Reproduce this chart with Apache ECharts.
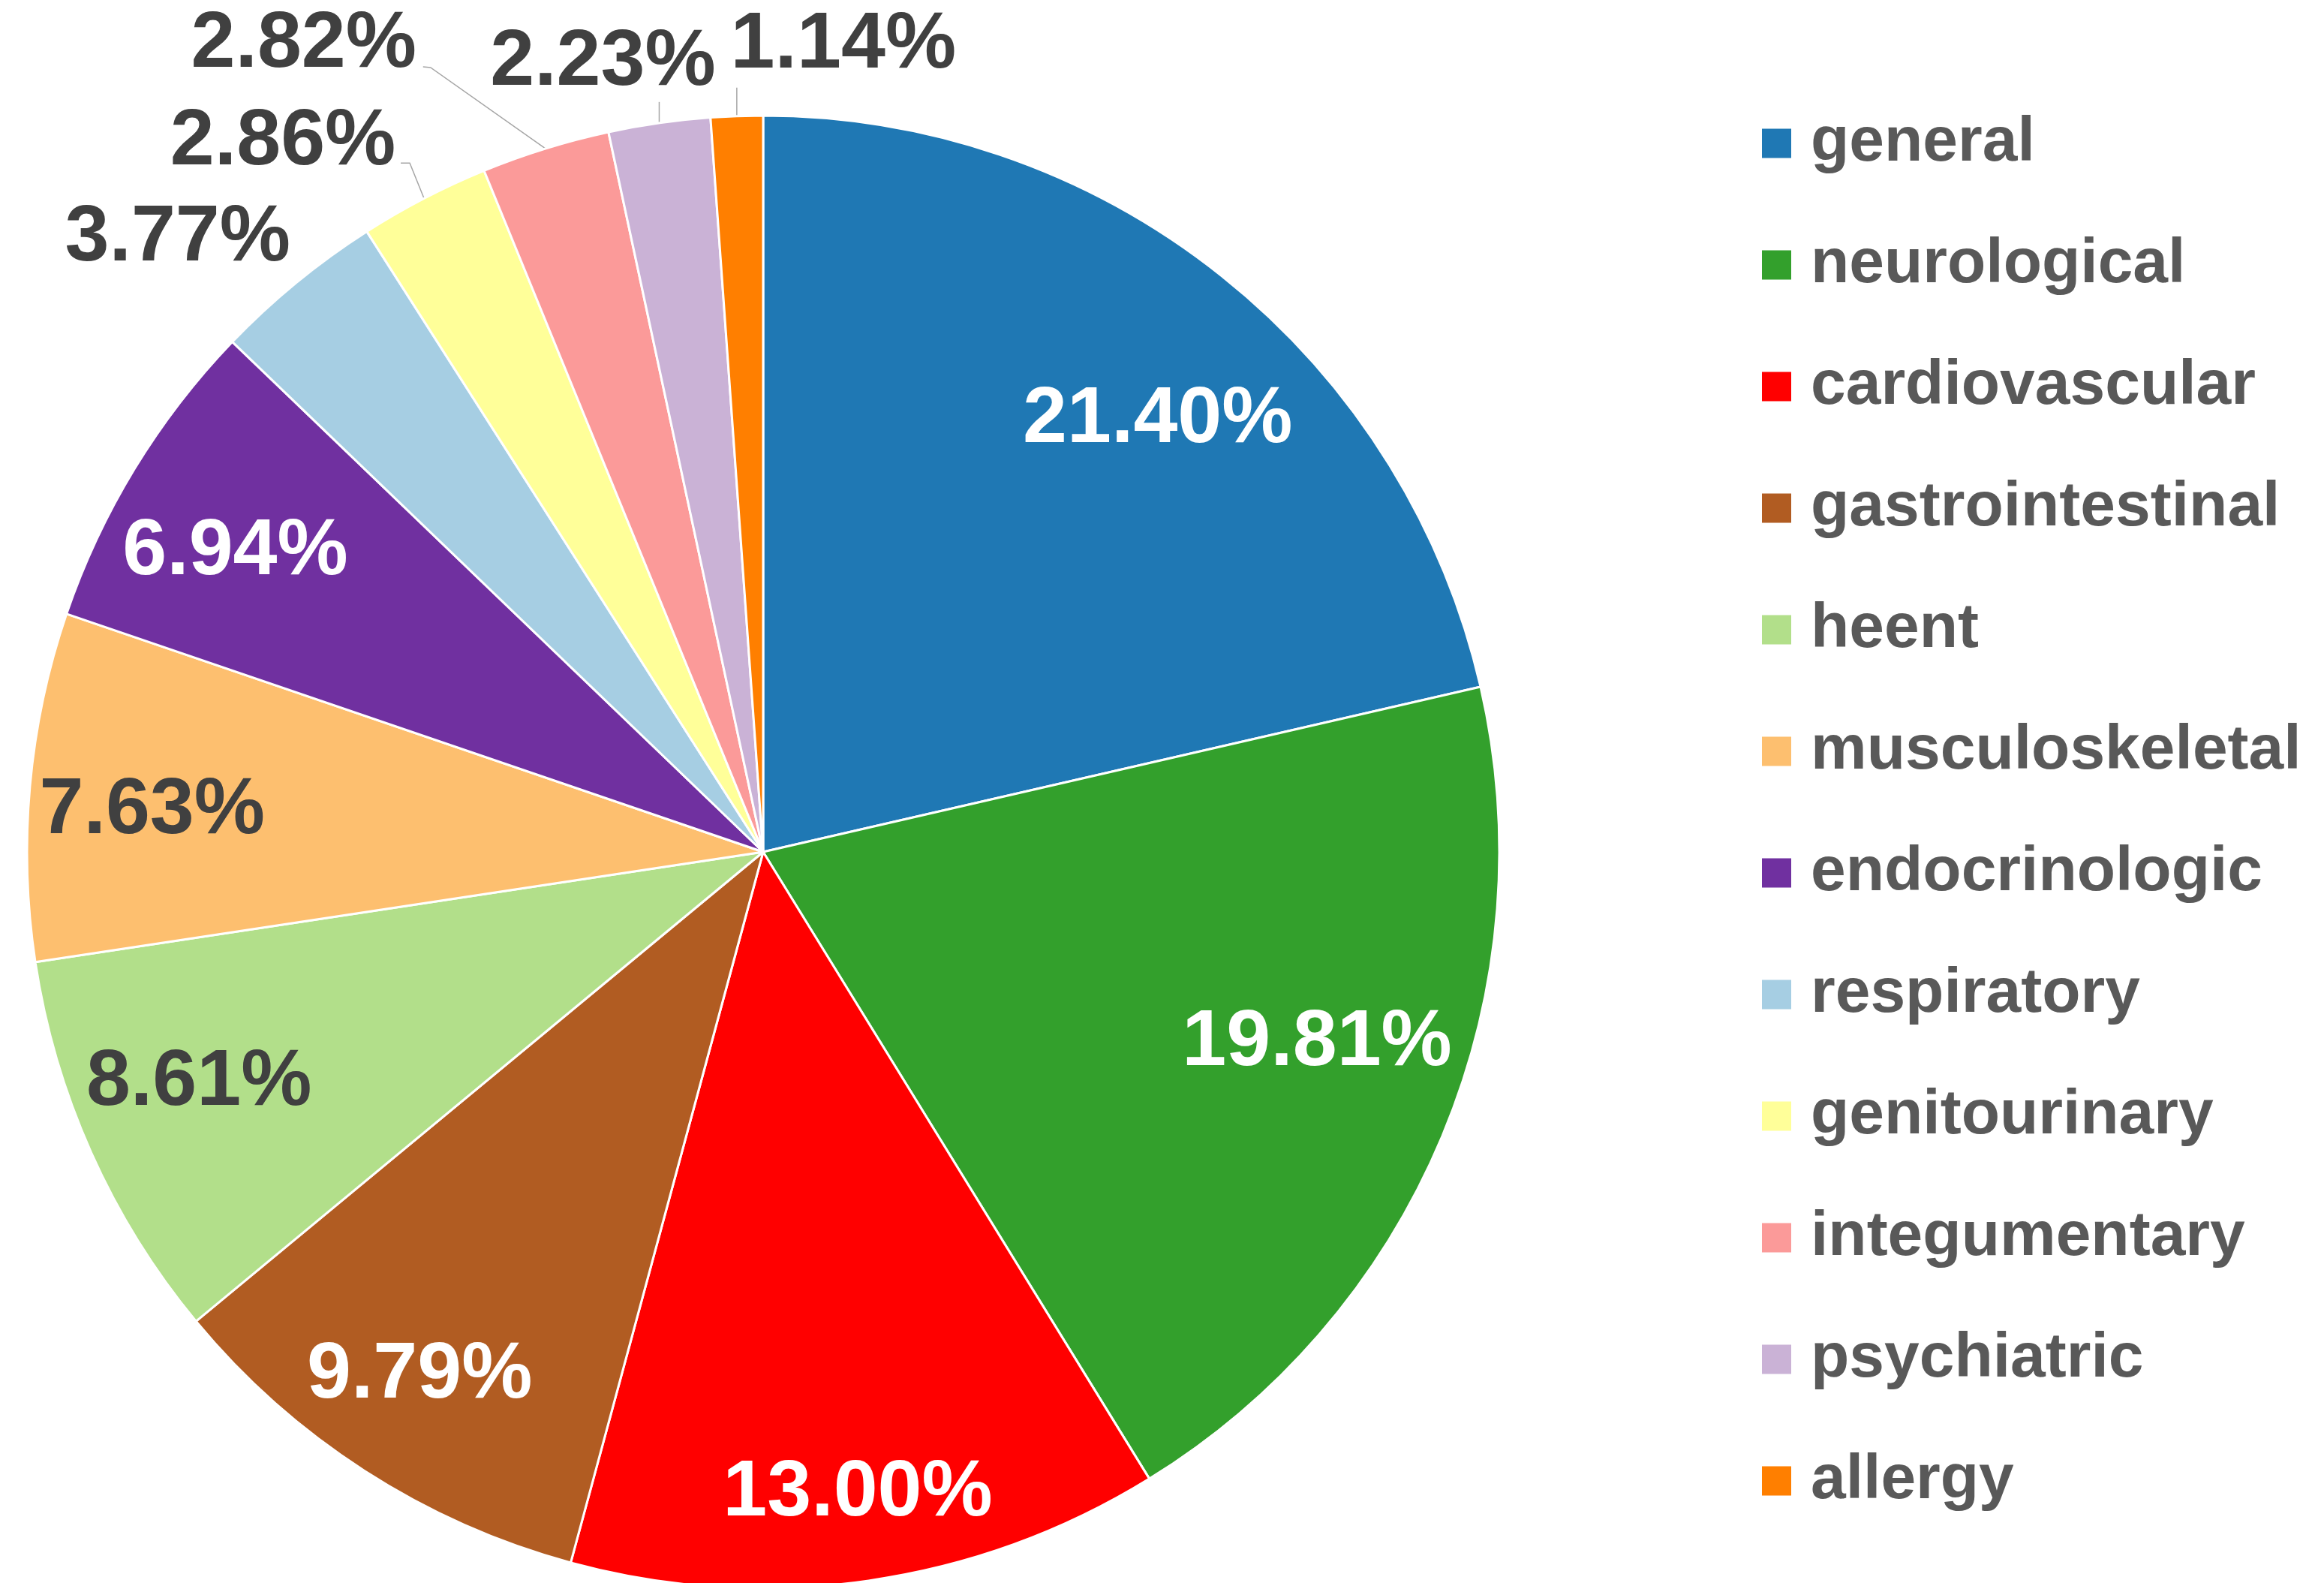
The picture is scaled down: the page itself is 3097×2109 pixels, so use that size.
<!DOCTYPE html>
<html>
<head>
<meta charset="utf-8">
<script src="https://cdn.jsdelivr.net/npm/echarts@6/dist/echarts.min.js"></script>
<style>
  html, body { margin: 0; padding: 0; background: #ffffff; }
  #chart { width: 3097px; height: 2109px; }
</style>
</head>
<body>
<div id="chart"></div>
<script>
// ---- data ----
const categories = ['general', 'neurological', 'cardiovascular', 'gastrointestinal', 'heent',
  'musculoskeletal', 'endocrinologic', 'respiratory', 'genitourinary', 'integumentary',
  'psychiatric', 'allergy'];
const values = [21.40, 19.81, 13.00, 9.79, 8.61, 7.63, 6.94, 3.77, 2.86, 2.82, 2.23, 1.14];

// ---- styles ----
const sliceColors = ['#1f78b4', '#33a02c', '#ff0000', '#b15c22', '#b2df8a', '#fdbf6f',
  '#7030a0', '#a6cee3', '#ffff99', '#fb9a99', '#cab2d6', '#ff7f00'];
const labelColors = ['#ffffff', '#ffffff', '#ffffff', '#ffffff', '#404040', '#404040', '#ffffff',
  '#404040', '#404040', '#404040', '#404040', '#404040'];
const FONT = "'Liberation Sans', Arial, Helvetica, sans-serif";
const CX = 1017, CY = 1135, R = 981;
const LABEL_FS = 106;
const TEXT_DY = 3;

// inside labels: radius fraction and angle shift (deg) from the slice's mid angle
const insidePlacement = {
  0: { f: 0.797, da: 3.74 },
  1: { f: 0.795, da: -3.85 },
  2: { f: 0.878, da: -0.17 },
  3: { f: 0.848, da: 0.61 },
  4: { f: 0.827, da: 2.03 },
  5: { f: 0.832, da: -1.13 },
  6: { f: 0.826, da: -1.6 }
};
// outside labels: offset of the label centre from the slice's outer-edge midpoint
const outsidePlacement = {
  7:  { dx: -158, dy: -62, line: null },
  8:  { dx: -188, dy: -78, line: [[-19, -47], [-31, -47]] },
  9:  { dx: -322, dy: -141, line: [[-153, -108], [-163, -109]] },
  10: { dx: -75, dy: -83, line: [[0, -28]] },
  11: { dx: 142, dy: -97, line: [[0, -38]] }
};

const total = values.reduce((a, b) => a + b, 0);
function midAngle(idx) {
  let cum = 0;
  for (let i = 0; i < idx; i++) cum += values[i];
  return 2 * Math.PI * (cum + values[idx] / 2) / total;
}
function polar(theta, r) {
  return [CX + r * Math.sin(theta), CY - r * Math.cos(theta)];
}

const fmt = p => Number(p.value).toFixed(2) + '%';

const mainData = categories.map((name, i) => ({
  name: name,
  value: values[i],
  itemStyle: { color: sliceColors[i] },
  label: { show: true, color: labelColors[i] },
  labelLine: { show: i >= 8 }
}));

const chart = echarts.init(document.getElementById('chart'), null, { renderer: 'canvas' });
chart.setOption({
  backgroundColor: '#ffffff',
  animation: false,
  legend: {
    orient: 'vertical',
    left: 2348,
    top: 141,
    padding: 0,
    itemWidth: 39,
    itemHeight: 39,
    itemGap: 62,
    icon: 'rect',
    itemStyle: { borderWidth: 0 },
    selectedMode: false,
    data: categories,
    textStyle: {
      fontFamily: FONT,
      fontSize: 84,
      fontWeight: 'bold',
      color: '#595959',
      lineHeight: 100,
      padding: [0, 0, 0, 21]
    }
  },
  series: [
    {
      type: 'pie',
      name: 'main',
      center: [CX, CY],
      radius: [0, R],
      startAngle: 90,
      clockwise: true,
      avoidLabelOverlap: false,
      itemStyle: { borderColor: '#ffffff', borderWidth: 3 },
      label: {
        position: 'outside',
        formatter: fmt,
        fontFamily: FONT,
        fontSize: LABEL_FS,
        fontWeight: 'bold'
      },
      labelLine: {
        length: 20,
        length2: 10,
        lineStyle: { color: '#a6a6a6', width: 1.5 }
      },
      labelLayout: function (params) {
        const i = params.dataIndex;
        const theta = midAngle(i);
        const ip = insidePlacement[i];
        if (ip) {
          const p = polar(theta + ip.da * Math.PI / 180, R * ip.f);
          return { x: p[0], y: p[1] + TEXT_DY, align: 'center', verticalAlign: 'middle', hideOverlap: false };
        }
        const pl = outsidePlacement[i];
        if (!pl) return {};
        const a = polar(theta, R);
        const out = {
          x: a[0] + pl.dx,
          y: a[1] + pl.dy + TEXT_DY,
          align: 'center',
          verticalAlign: 'middle',
          hideOverlap: false
        };
        if (pl.line) {
          out.labelLinePoints = [a].concat(pl.line.map(d => [a[0] + d[0], a[1] + d[1]]));
        }
        return out;
      },
      emphasis: { disabled: true },
      data: mainData
    }
  ]
});
</script>
</body>
</html>
